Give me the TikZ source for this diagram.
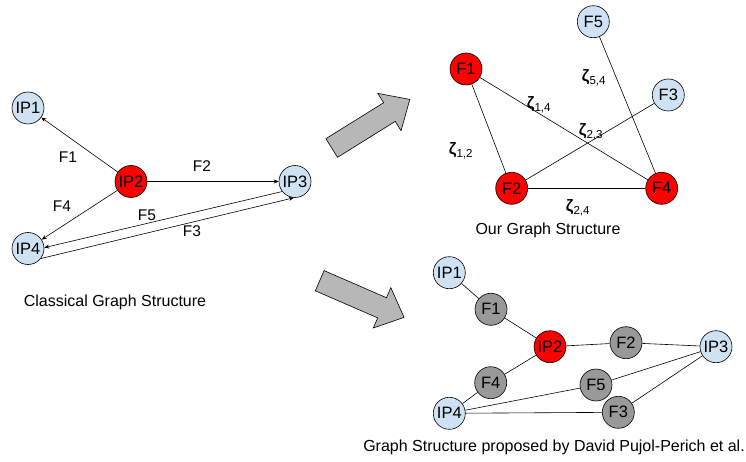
\documentclass[tikz,border=0pt]{standalone}
\usepackage{fontspec}
\setmainfont{Liberation Sans}
\usetikzlibrary{arrows.meta}
\definecolor{lblue}{HTML}{CFE2F3}
\definecolor{gnode}{HTML}{999999}
\definecolor{bigfill}{HTML}{B7B7B7}
\begin{document}
\begin{tikzpicture}[x=1pt,y=-1pt,
 nd/.style={circle,draw=black,line width=0.6pt,minimum size=32pt,inner sep=0pt,font=\fontsize{16.5}{18}\selectfont},
 ipn/.style={nd,fill=lblue},
 rn/.style={nd,fill=red},
 gn/.style={nd,fill=gnode},
 lbl/.style={font=\fontsize{15.5}{17}\selectfont,inner sep=0pt},
 zlbl/.style={font=\fontsize{16.5}{18}\selectfont,inner sep=0pt},
 captxt/.style={font=\fontsize{16}{18}\selectfont,inner sep=0pt},
 edge/.style={line width=0.6pt},
 arr/.style={edge,-{Stealth[length=5pt,width=4pt]}},
 big/.style={draw=black,line width=0.6pt,fill=bigfill,line join=miter}]
\useasboundingbox (0,0) rectangle (746,462);

% ---- Classical graph ----
\node[ipn] (aip1) at (28,108) {IP1};
\node[rn]  (aip2) at (131,181.5) {IP2};
\node[ipn] (aip3) at (295,181.5) {IP3};
\node[ipn] (aip4) at (28,248.5) {IP4};
\draw[arr] (aip2) -- (aip1);
\draw[arr] (aip2) -- (aip3);
\draw[arr] (aip2) -- (aip4);
\draw[arr] (aip3.218) -- (aip4.3);
\draw[arr] (aip4.322) -- (aip3.266);
\node[lbl] (lf1) at (68,157) {F1};
\node[lbl] (lf2) at (202,166) {F2};
\node[lbl] (lf4) at (62,206) {F4};
\node[lbl] (lf5) at (147,215) {F5};
\node[lbl] (lf3) at (192,231) {F3};
\node[captxt] (capa) at (115,302) {Classical Graph Structure};

% ---- big arrows ----
\draw[big,shift={(331.7,148)},rotate=31.9] (0,-11) -- (68,-11) -- (68,-22) -- (92,0) -- (68,22) -- (68,11) -- (0,11) -- cycle;
\draw[big,shift={(319.7,280.7)},rotate=-23.5] (0,-11) -- (68,-11) -- (68,-22) -- (92,0) -- (68,22) -- (68,11) -- (0,11) -- cycle;

% ---- Our graph ----
\node[ipn] (bf5) at (593.3,21.7) {F5};
\node[rn]  (bf1) at (466,69) {F1};
\node[ipn] (bf3) at (668.3,95) {F3};
\node[rn]  (bf2) at (511.7,188.3) {F2};
\node[rn]  (bf4) at (661.7,188.3) {F4};
\draw[edge] (bf1) -- (bf2);
\draw[edge] (bf1) -- (bf4);
\draw[edge] (bf5) -- (bf4);
\draw[edge] (bf3) -- (bf2);
\draw[edge] (bf2) -- (bf4);
\node[zlbl] (z54) at (594,78) {{\bfseries ζ}\textsubscript{5,4}};
\node[zlbl] (z14) at (539,105) {{\bfseries ζ}\textsubscript{1,4}};
\node[zlbl] (z23) at (591,132) {{\bfseries ζ}\textsubscript{2,3}};
\node[zlbl] (z12) at (461,151) {{\bfseries ζ}\textsubscript{1,2}};
\node[zlbl] (z24) at (578,208) {{\bfseries ζ}\textsubscript{2,4}};
\node[captxt] (capb) at (548,230) {Our Graph Structure};

% ---- Pujol-Perich graph ----
\node[ipn] (cip1) at (449.3,272.7) {IP1};
\node[gn]  (cf1)  at (491,309.3) {F1};
\node[rn]  (cip2) at (550,346.7) {IP2};
\node[gn]  (cf2)  at (626,342.7) {F2};
\node[ipn] (cip3) at (716,346.7) {IP3};
\node[gn]  (cf4)  at (490.7,382.7) {F4};
\node[gn]  (cf5)  at (596,385) {F5};
\node[ipn] (cip4) at (449.3,413.3) {IP4};
\node[gn]  (cf3)  at (618.3,412.3) {F3};
\draw[edge] (cip1) -- (cf1);
\draw[edge] (cf1) -- (cip2);
\draw[edge] (cip2) -- (cf2);
\draw[edge] (cf2) -- (cip3);
\draw[edge] (cip2) -- (cf4);
\draw[edge] (cf4) -- (cip4);
\draw[edge] (cip4) -- (cf5);
\draw[edge] (cf5) -- (cip3);
\draw[edge] (cip4) -- (cf3);
\draw[edge] (cf3) -- (cip3);
\node[captxt,anchor=east] (capc) at (745,447) {Graph Structure proposed by David Pujol-Perich et al.};
\end{tikzpicture}
\end{document}
